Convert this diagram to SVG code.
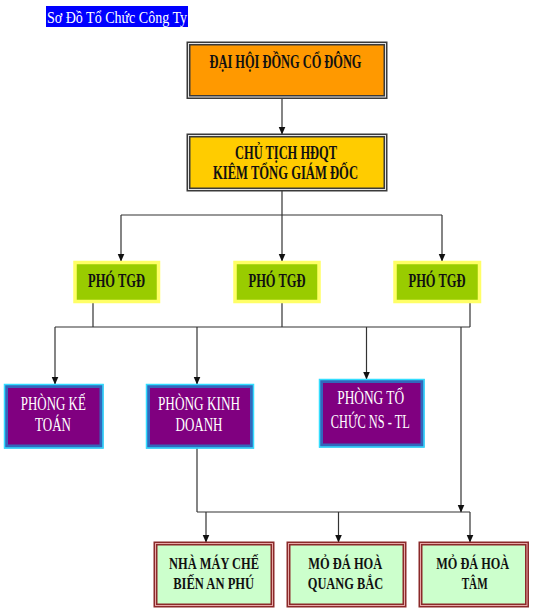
<svg xmlns="http://www.w3.org/2000/svg" width="539" height="610" viewBox="0 0 539 610">
  <defs>
    <marker id="arr" markerWidth="8" markerHeight="9" refX="7.5" refY="3.5" orient="auto" markerUnits="userSpaceOnUse">
      <path d="M0,0 L8,3.5 L0,7 Z" fill="#111"/>
    </marker>
  </defs>
  <style>
    text { font-family: "Liberation Serif", "Times New Roman", serif; font-size: 18px; text-anchor: middle; }
    .dark { fill: #111; font-weight: bold; }
    .sm { font-size: 17px; }
    .light { fill: #fff; font-size: 18px; }
    .conn line { stroke: #333; stroke-width: 1.2; fill: none; }
    .arrow { marker-end: url(#arr); }
    .b1 { fill: #FF9900; stroke: #3a3a3a; stroke-width: 4; }
    .b2 { fill: #FFCC00; stroke: #3a3a3a; stroke-width: 4; }
    .gap { fill: none; stroke: #e6e6e6; stroke-width: 1; }
    .pho { fill: #99CC00; stroke: #FFFF66; stroke-width: 3.5; }
    .pur { fill: #800080; stroke: #3366BB; stroke-width: 4; }
    .purO { fill: none; stroke: #33DDFF; stroke-width: 1.5; }
    .purB { stroke: #3366BB; stroke-width: 2; }
    .grn { fill: #CCFFCC; stroke: #8B2A2A; stroke-width: 4; }
    .gapr { fill: none; stroke: #E8A8A8; stroke-width: 1; }
  </style>

  <g id="title">
    <rect x="46" y="6" width="142" height="21" fill="#0000FF"/>
    <text x="117" y="22.5" fill="#fff" textLength="140" lengthAdjust="spacingAndGlyphs" style="font-size:17px">Sơ Đồ Tổ Chức Công Ty</text>
  </g>

  <g class="conn">
    <line class="arrow" x1="282" y1="98" x2="282" y2="134"/>
    <line x1="282" y1="191" x2="282" y2="215"/>
    <line x1="121" y1="215" x2="442" y2="215"/>
    <line class="arrow" x1="121" y1="215" x2="121" y2="261"/>
    <line class="arrow" x1="282" y1="215" x2="282" y2="261"/>
    <line class="arrow" x1="442" y1="215" x2="442" y2="261"/>
    <line x1="93" y1="303" x2="93" y2="327"/>
    <line x1="282" y1="303" x2="282" y2="327"/>
    <line x1="470" y1="303" x2="470" y2="327"/>
    <line x1="55" y1="327" x2="470" y2="327"/>
    <line class="arrow" x1="55" y1="327" x2="55" y2="384"/>
    <line class="arrow" x1="197" y1="327" x2="197" y2="384"/>
    <line class="arrow" x1="366.5" y1="327" x2="366.5" y2="379"/>
    <line class="arrow" x1="461" y1="327" x2="461" y2="512"/>
    <line x1="197" y1="448" x2="197" y2="512"/>
    <line x1="197" y1="512" x2="470" y2="512"/>
    <line class="arrow" x1="206" y1="512" x2="206" y2="542"/>
    <line class="arrow" x1="338.5" y1="512" x2="338.5" y2="542"/>
    <line class="arrow" x1="470" y1="512" x2="470" y2="542"/>
  </g>

  <g id="dai-hoi-dong-co-dong">
    <rect class="b1" x="188.5" y="43.5" width="197" height="53.5"/>
    <rect class="gap" x="188.5" y="43.5" width="197" height="53.5"/>
    <text class="dark" x="285.5" y="67.5" textLength="152" lengthAdjust="spacingAndGlyphs">ĐẠI HỘI ĐỒNG CỔ ĐÔNG</text>
  </g>

  <g id="chu-tich">
    <rect class="b2" x="188.5" y="135.5" width="197" height="54"/>
    <rect class="gap" x="188.5" y="135.5" width="197" height="54"/>
    <text class="dark" x="286" y="158.5" textLength="102" lengthAdjust="spacingAndGlyphs">CHỦ TỊCH HĐQT</text>
    <text class="dark" x="285.5" y="178.5" textLength="145" lengthAdjust="spacingAndGlyphs">KIÊM TỔNG GIÁM ĐỐC</text>
  </g>

  <g id="pho-tgd-1">
    <rect class="pho" x="75" y="262.5" width="83.5" height="39"/>
    <text class="dark" x="116.5" y="286.5" textLength="57" lengthAdjust="spacingAndGlyphs">PHÓ TGĐ</text>
  </g>
  <g id="pho-tgd-2">
    <rect class="pho" x="235" y="262.5" width="84" height="39"/>
    <text class="dark" x="277" y="286.5" textLength="57" lengthAdjust="spacingAndGlyphs">PHÓ TGĐ</text>
  </g>
  <g id="pho-tgd-3">
    <rect class="pho" x="395" y="262.5" width="84.5" height="39"/>
    <text class="dark" x="437" y="286.5" textLength="57" lengthAdjust="spacingAndGlyphs">PHÓ TGĐ</text>
  </g>

  <g id="phong-ke-toan">
    <rect class="pur" x="6" y="386" width="95.5" height="60.5"/>
    <line class="purB" x1="6" y1="446" x2="101.5" y2="446"/>
    <rect class="purO" x="4.5" y="384.5" width="98.5" height="63.5"/>
    <text class="light" x="53.3" y="409.5" textLength="65" lengthAdjust="spacingAndGlyphs">PHÒNG KẾ</text>
    <text class="light" x="53" y="430.5" textLength="36" lengthAdjust="spacingAndGlyphs">TOÁN</text>
  </g>

  <g id="phong-kinh-doanh">
    <rect class="pur" x="148" y="386" width="104" height="60.5"/>
    <line class="purB" x1="148" y1="446" x2="252" y2="446"/>
    <rect class="purO" x="146.5" y="384.5" width="107" height="63.5"/>
    <text class="light" x="199" y="410" textLength="82" lengthAdjust="spacingAndGlyphs">PHÒNG KINH</text>
    <text class="light" x="199" y="431" textLength="47" lengthAdjust="spacingAndGlyphs">DOANH</text>
  </g>

  <g id="phong-to-chuc">
    <rect class="pur" x="321" y="381" width="101.5" height="64.5"/>
    <line class="purB" x1="321" y1="445" x2="422.5" y2="445"/>
    <rect class="purO" x="319.5" y="379.5" width="104.5" height="67.5"/>
    <text class="light" x="370.7" y="404" textLength="67" lengthAdjust="spacingAndGlyphs">PHÒNG TỔ</text>
    <text class="light" x="370.3" y="428" textLength="79" lengthAdjust="spacingAndGlyphs">CHỨC NS - TL</text>
  </g>

  <g id="nha-may">
    <rect class="grn" x="155.5" y="543.5" width="117" height="62"/>
    <rect class="gapr" x="155.5" y="543.5" width="117" height="62"/>
    <text class="dark sm" x="214" y="568.5" textLength="90" lengthAdjust="spacingAndGlyphs">NHÀ MÁY CHẾ</text>
    <text class="dark sm" x="213.7" y="588.5" textLength="81" lengthAdjust="spacingAndGlyphs">BIẾN AN PHÚ</text>
  </g>

  <g id="mo-da-quang-bac">
    <rect class="grn" x="288.5" y="543.5" width="116" height="62"/>
    <rect class="gapr" x="288.5" y="543.5" width="116" height="62"/>
    <text class="dark sm" x="345.3" y="568.5" textLength="74" lengthAdjust="spacingAndGlyphs">MỎ ĐÁ HOÀ</text>
    <text class="dark sm" x="345.5" y="588.5" textLength="75.5" lengthAdjust="spacingAndGlyphs">QUANG BẮC</text>
  </g>

  <g id="mo-da-tam">
    <rect class="grn" x="420.5" y="543.5" width="106.5" height="62"/>
    <rect class="gapr" x="420.5" y="543.5" width="106.5" height="62"/>
    <text class="dark sm" x="472.7" y="568.5" textLength="73" lengthAdjust="spacingAndGlyphs">MỎ ĐÁ HOÀ</text>
    <text class="dark sm" x="474.7" y="588.5" textLength="26" lengthAdjust="spacingAndGlyphs">TÂM</text>
  </g>
</svg>
